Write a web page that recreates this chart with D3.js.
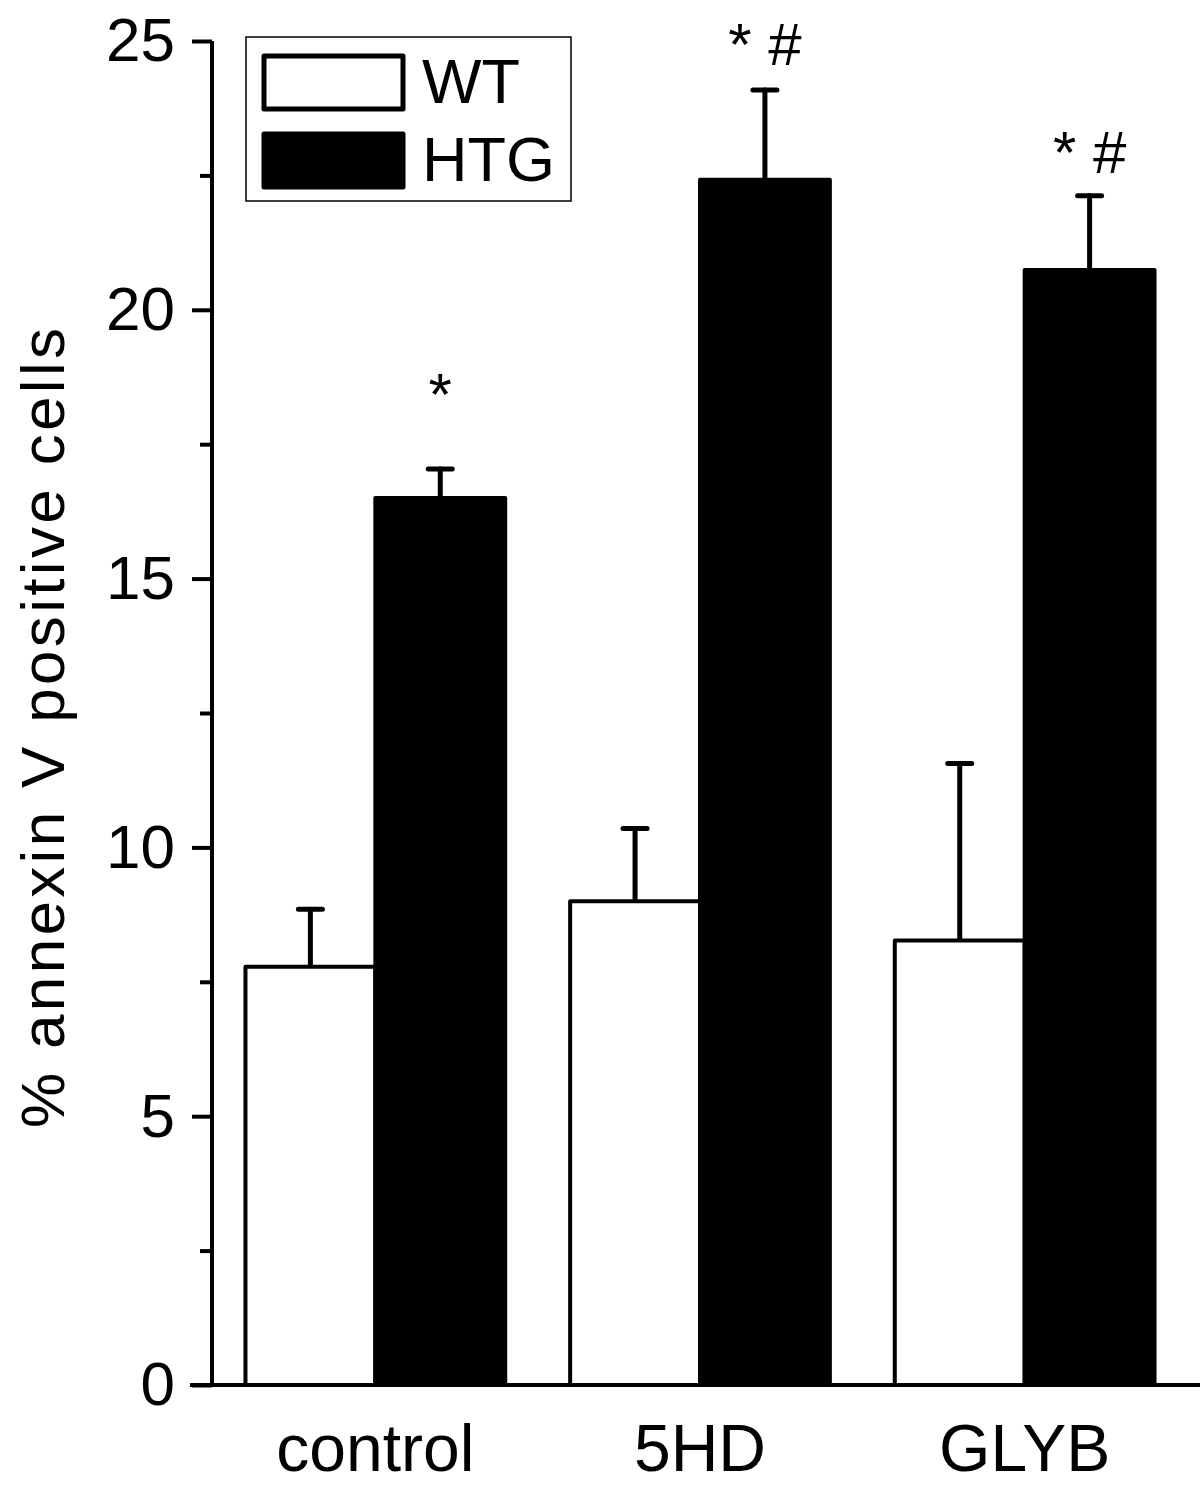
<!DOCTYPE html>
<html>
<head>
<meta charset="utf-8">
<script src="https://d3js.org/d3.v7.min.js"></script>
<style>
  body { margin: 0; background: #fff; }
  text { font-family: "Liberation Sans", Arial, Helvetica, sans-serif; fill: #000; }
</style>
</head>
<body>
<div id="main"></div>
<script>
// data
var categories = ["control", "5HD", "GLYB"];
var series = ["WT", "HTG"];
var wtMean = [7.78, 9.0, 8.27];
var wtErr = [1.07, 1.35, 3.29];
var htgMean = [16.5, 22.42, 20.74];
var htgErr = [0.54, 1.67, 1.38];
var marks = ["*", "* #", "* #"];
var markY = [18.05, 24.55, 22.55]; // baseline of the significance marks, in axis units
var majorTicks = [0, 5, 10, 15, 20, 25];
var minorTicks = [2.5, 7.5, 12.5, 17.5, 22.5];

var width = 1200, height = 1487;

var svg = d3.select("#main").append("svg")
    .attr("width", width)
    .attr("height", height);

var y = d3.scaleLinear().domain([0, 25]).range([1385, 41]);

var x = d3.scaleBand()
    .domain(categories)
    .range([213, 1187])
    .paddingInner(0.2)
    .paddingOuter(0.1);

var xs = d3.scaleBand().domain(series).range([0, x.bandwidth()]);

var rows = categories.map(function(c, i) {
  return [
    {cat: c, s: "WT", v: wtMean[i], e: wtErr[i]},
    {cat: c, s: "HTG", v: htgMean[i], e: htgErr[i]}
  ];
});
var flat = d3.merge(rows);

function cx(d) { return x(d.cat) + xs(d.s) + xs.bandwidth() / 2; }

// error bars first (only the upper half shows above the bar)
var capW = 24;
var eb = svg.append("g").attr("stroke", "#000").attr("stroke-width", 5).attr("stroke-linecap", "round");
eb.selectAll(".ev").data(flat).enter().append("line")
    .attr("x1", cx).attr("x2", cx)
    .attr("y1", function(d) { return y(d.v); })
    .attr("y2", function(d) { return y(d.v + d.e); });
eb.selectAll(".ec").data(flat).enter().append("line")
    .attr("x1", function(d) { return cx(d) - capW / 2; })
    .attr("x2", function(d) { return cx(d) + capW / 2; })
    .attr("y1", function(d) { return y(d.v + d.e); })
    .attr("y2", function(d) { return y(d.v + d.e); });

// bars
svg.append("g").selectAll("rect").data(flat).enter().append("rect")
    .attr("x", function(d) { return x(d.cat) + xs(d.s); })
    .attr("width", xs.bandwidth())
    .attr("y", function(d) { return y(d.v); })
    .attr("height", function(d) { return y(0) - y(d.v); })
    .attr("fill", function(d) { return d.s == "WT" ? "#fff" : "#000"; })
    .attr("stroke", "#000")
    .attr("stroke-width", 4)
    .attr("stroke-linejoin", "round");

// y axis
var yAxis = svg.append("g")
    .attr("transform", "translate(212,0)")
    .call(d3.axisLeft(y).tickValues(majorTicks).tickSize(20).tickPadding(17).tickFormat(d3.format("d")));
yAxis.select(".domain").attr("stroke-width", 4).attr("d", "M0," + y(25) + "V" + y(0));
yAxis.selectAll(".tick line").attr("stroke-width", 4);
yAxis.selectAll(".tick text")
    .style("font-size", "62px")
    .style("font-family", "'Liberation Sans', Arial, sans-serif");

var yMinor = svg.append("g")
    .attr("transform", "translate(212,0)")
    .call(d3.axisLeft(y).tickValues(minorTicks).tickSize(12).tickFormat(""));
yMinor.select(".domain").remove();
yMinor.selectAll(".tick line").attr("stroke-width", 4);

// x baseline
svg.append("line")
    .attr("x1", 190).attr("x2", width)
    .attr("y1", y(0)).attr("y2", y(0))
    .attr("stroke", "#000").attr("stroke-width", 4);

// category labels
svg.append("g").selectAll("text").data(categories).enter().append("text")
    .attr("x", function(d) { return x(d) + x.bandwidth() / 2; })
    .attr("y", 1471)
    .attr("text-anchor", "middle")
    .style("font-size", "66px")
    .text(function(d) { return d; });

// y axis title
svg.append("text")
    .attr("transform", "translate(64,728) rotate(-90)")
    .attr("text-anchor", "middle")
    .attr("textLength", 800)
    .attr("lengthAdjust", "spacing")
    .style("font-size", "62px")
    .text("% annexin V positive cells");

// significance marks above HTG bars
svg.append("g").selectAll("text").data(categories).enter().append("text")
    .attr("x", function(d) { return x(d) + xs("HTG") + xs.bandwidth() / 2; })
    .attr("y", function(d, i) { return y(markY[i]); })
    .attr("text-anchor", "middle")
    .style("font-size", "60px")
    .style("white-space", "pre")
    .text(function(d, i) { return marks[i]; });

// legend
var lg = svg.append("g");
lg.append("rect").attr("x", 246).attr("y", 37).attr("width", 325).attr("height", 164)
    .attr("fill", "none").attr("stroke", "#000").attr("stroke-width", 1.5);
var legRows = lg.selectAll(".lr").data(series).enter().append("g")
    .attr("transform", function(d, i) { return "translate(0," + (i * 78) + ")"; });
legRows.append("rect")
    .attr("x", 264).attr("y", 56).attr("width", 139).attr("height", 53)
    .attr("fill", function(d) { return d == "WT" ? "#fff" : "#000"; })
    .attr("stroke", "#000").attr("stroke-width", 5).attr("stroke-linejoin", "round");
legRows.append("text")
    .attr("x", 422).attr("y", 103)
    .style("font-size", "63px")
    .text(function(d) { return d; });
</script>
</body>
</html>
